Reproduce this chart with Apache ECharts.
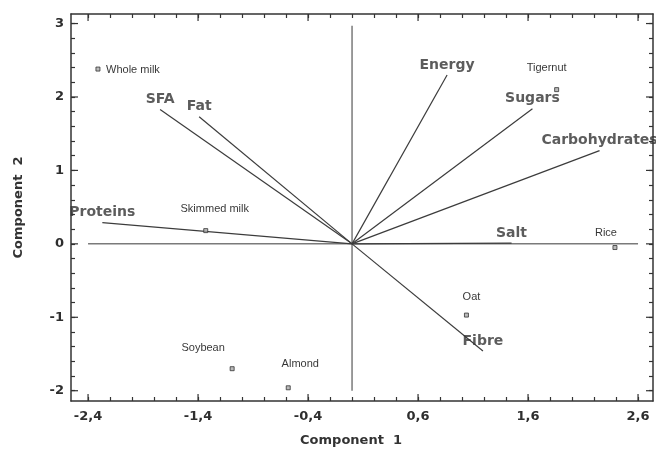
<!DOCTYPE html>
<html><head><meta charset="utf-8">
<script src="https://cdn.jsdelivr.net/npm/echarts@6/dist/echarts.min.js"></script>
<style>html,body{margin:0;padding:0;background:#fff}#c{width:656px;height:452px}</style>
</head><body><div id="c"></div>
<script>
// Variable loadings (vectors)
const variables = ['Proteins','SFA','Fat','Energy','Sugars','Carbohydrates','Salt','Fibre'];
const varX = [-2.27, -1.745, -1.39, 0.864, 1.64, 2.25, 1.45, 1.19];
const varY = [0.29, 1.83, 1.73, 2.30, 1.84, 1.27, 0.01, -1.46];
// Food scores (points)
const foods = ['Whole milk','Skimmed milk','Tigernut','Rice','Oat','Soybean','Almond'];
const foodX = [-2.31, -1.33, 1.86, 2.39, 1.04, -1.09, -0.58];
const foodY = [2.38, 0.18, 2.10, -0.05, -0.97, -1.70, -1.96];
// Tick labels
const xTickLabels = [-2.4, -1.4, -0.4, 0.6, 1.6, 2.6];
const yTickLabels = [-2, -1, 0, 1, 2, 3];
const xMinorTicks = [-2.4,-2.2,-2.0,-1.8,-1.6,-1.4,-1.2,-1.0,-0.8,-0.6,-0.4,-0.2,0,0.2,0.4,0.6,0.8,1.0,1.2,1.4,1.6,1.8,2.0,2.2,2.4,2.6];
const yMinorTicks = [-2.0,-1.8,-1.6,-1.4,-1.2,-1.0,-0.8,-0.6,-0.4,-0.2,0,0.2,0.4,0.6,0.8,1.0,1.2,1.4,1.6,1.8,2.0,2.2,2.4,2.6,2.8,3.0];
// Reference lines
const hLine = [[-2.4, 0], [2.6, 0]];
const vLine = [[0, -2.0], [0, 2.97]];

const X_MIN = -2.555, X_MAX = 2.736, Y_MIN = -2.14, Y_MAX = 3.13;
const AX = '#333';
const foodLabelOffsets = {
  'Whole milk': [35, 1], 'Skimmed milk': [9, -22], 'Tigernut': [-10, -22],
  'Rice': [-9, -15], 'Oat': [5, -18], 'Soybean': [-29, -21], 'Almond': [12, -24]
};

const tickFont = {fontFamily: 'DejaVu Sans', fontWeight: 'bold', fontSize: 13, color: '#2e2e2e'};
function fmtX(v){ return (Math.round(v*10)/10).toFixed(1).replace('.', ','); }

function xAx(pos, main){
  return {
    type: 'value', position: pos, min: X_MIN, max: X_MAX,
    axisLine: {show: true, onZero: false, lineStyle: {color: AX, width: 1.5}},
    axisTick: {show: true, inside: true, length: 4, customValues: xMinorTicks, lineStyle: {color: AX, width: 1.2}},
    axisLabel: main ? Object.assign({show: true, margin: 9, customValues: xTickLabels, formatter: fmtX}, tickFont) : {show: false},
    splitLine: {show: false},
    name: main ? 'Component  1' : '', nameLocation: 'middle', nameGap: 33,
    nameTextStyle: {fontFamily: 'DejaVu Sans', fontWeight: 'bold', fontSize: 13, color: '#333', padding: [0, 22, 0, 0]}
  };
}
function yAx(pos, main){
  return {
    type: 'value', position: pos, min: Y_MIN, max: Y_MAX,
    axisLine: {show: true, onZero: false, lineStyle: {color: AX, width: 1.5}},
    axisTick: {show: true, inside: true, length: 4, customValues: yMinorTicks, lineStyle: {color: AX, width: 1.2}},
    axisLabel: main ? Object.assign({show: true, margin: 7, customValues: yTickLabels, formatter: v => String(Math.round(v))}, tickFont) : {show: false},
    splitLine: {show: false},
    name: main ? 'Component  2' : '', nameLocation: 'middle', nameGap: 46,
    nameTextStyle: {fontFamily: 'DejaVu Sans', fontWeight: 'bold', fontSize: 13, color: '#333'}
  };
}

const chart = echarts.init(document.getElementById('c'), null, {renderer: 'canvas'});
const option = {
  animation: false,
  backgroundColor: '#fff',
  grid: {left: 71, top: 14, right: 3, bottom: 51, containLabel: false},
  xAxis: [xAx('bottom', true), xAx('top', false)],
  yAxis: [yAx('left', true), yAx('right', false)],
  series: [
    {
      type: 'custom', silent: true, clip: false, z: 5,
      data: xTickLabels.map(v => [v, 0]),
      renderItem: function(params, api){
        const v = api.value(0);
        const b = api.coord([v, Y_MIN]), t = api.coord([v, Y_MAX]);
        const st = {stroke: AX, lineWidth: 1.2};
        return {type: 'group', children: [
          {type: 'line', shape: {x1: b[0], y1: b[1], x2: b[0], y2: b[1] - 7}, style: st},
          {type: 'line', shape: {x1: t[0], y1: t[1], x2: t[0], y2: t[1] + 7}, style: st}
        ]};
      }
    },
    {
      type: 'custom', silent: true, clip: false, z: 5,
      data: yTickLabels.map(v => [0, v]),
      renderItem: function(params, api){
        const v = api.value(1);
        const l = api.coord([X_MIN, v]), r = api.coord([X_MAX, v]);
        const st = {stroke: AX, lineWidth: 1.2};
        return {type: 'group', children: [
          {type: 'line', shape: {x1: l[0], y1: l[1], x2: l[0] + 7, y2: l[1]}, style: st},
          {type: 'line', shape: {x1: r[0], y1: r[1], x2: r[0] - 7, y2: r[1]}, style: st}
        ]};
      }
    },
    {type: 'line', data: hLine, symbol: 'none', silent: true, lineStyle: {color: '#7a7a7a', width: 1.5}, z: 2},
    {type: 'line', data: vLine, symbol: 'none', silent: true, lineStyle: {color: '#7a7a7a', width: 1.5}, z: 2},
    {
      type: 'lines', coordinateSystem: 'cartesian2d', silent: true, z: 3,
      lineStyle: {color: '#3c3c3c', width: 1.2, opacity: 1},
      data: variables.map((n, i) => ({name: n, coords: [[0, 0], [varX[i], varY[i]]]}))
    },
    {
      type: 'scatter', symbolSize: 0, silent: true, z: 6,
      data: variables.map((n, i) => ({name: n, value: [varX[i], varY[i]]})),
      label: {show: true, position: 'inside', offset: [0, -10], formatter: '{b}',
        fontFamily: 'DejaVu Sans', fontWeight: 'bold', fontSize: 14, color: '#333'}
    },
    {
      type: 'scatter', symbol: 'rect', symbolSize: 4, silent: true, z: 6,
      itemStyle: {color: '#aaa', borderColor: '#333', borderWidth: 1},
      data: foods.map((n, i) => ({
        name: n, value: [foodX[i], foodY[i]],
        label: {offset: foodLabelOffsets[n]}
      })),
      label: {show: true, position: 'inside', formatter: '{b}',
        fontFamily: 'Liberation Sans', fontSize: 11, color: '#000'}
    }
  ]
};
chart.setOption(option);
</script>
</body></html>
